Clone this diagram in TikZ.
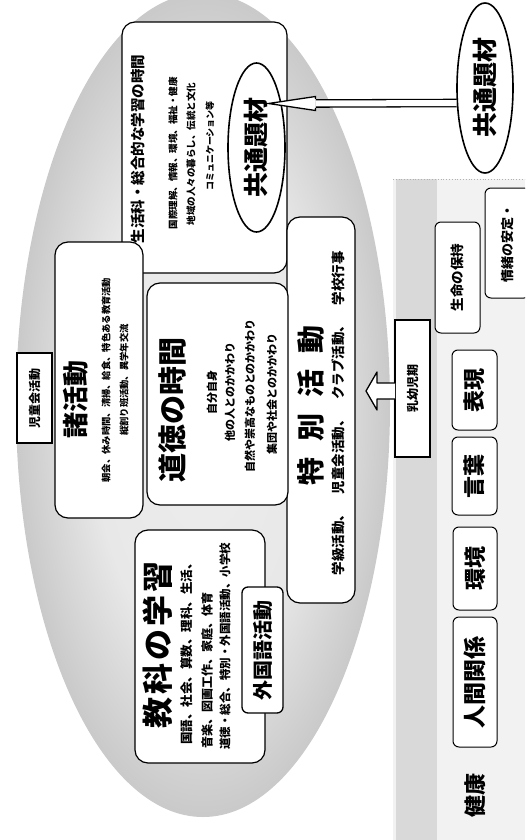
\documentclass[tikz,border=0pt]{standalone}
\usepackage{fontspec}
\newfontfamily\jp{Noto Sans CJK JP}
\usetikzlibrary{calc,shapes.geometric}
\pgfdeclareradialshading{ovalsh}{\pgfpoint{0bp}{0bp}}{color(0bp)=(gray!14); color(15bp)=(gray!18); color(25bp)=(gray!42); color(50bp)=(gray!42)}
\begin{document}
\begin{tikzpicture}[x=1pt,y=-1pt,
  bigbox/.style={draw, line width=1.2pt, rounded corners=13pt, fill=white, inner sep=0pt},
  ttl/.style={rotate=90, inner sep=0pt, font=\jp\bfseries\fontsize{#1}{#1}\selectfont},
  sub/.style={rotate=90, inner sep=0pt, font=\jp\bfseries\fontsize{#1}{#1}\selectfont},
  tagbox/.style={draw, line width=1.8pt, rotate=90, fill=white, inner sep=0pt, font=\jp\bfseries\fontsize{12}{12}\selectfont},
  areabox/.style={draw, line width=1pt, rounded corners=6pt, rotate=90, fill=white, inner sep=0pt, font=\jp\bfseries\fontsize{#1}{#1}\selectfont},
  ovalnode/.style={draw, ellipse, line width=1.6pt, rotate=90, fill=white, inner sep=0pt, font=\jp\bfseries\fontsize{25}{25}\selectfont}]
\useasboundingbox (0,0) rectangle (525,840);
\clip (0,0) rectangle (525,840);
\fill[white] (0,0) rectangle (525,840);
% big oval
\shade[shading=ovalsh] (203,405) ellipse [x radius=187pt, y radius=412pt];
% right band
\fill[gray!10] (393,179) rectangle (525,840);
\fill[gray!30] (396,179) rectangle (437,840);
\draw[gray!60, dotted, line width=0.8pt] (393,179) -- (525,179);
% big boxes
\node[bigbox, minimum width=165pt, minimum height=251pt] (sogo) at (204.5,147.5) {};
\node[bigbox, minimum width=88pt, minimum height=276pt] (shokatsu) at (99,380) {};
\node[bigbox, minimum width=68pt, minimum height=386pt] (tokkatsu) at (321,410) {};
\node[bigbox, minimum width=141pt, minimum height=222pt] (dotoku) at (217.5,394) {};
\node[bigbox, minimum width=130pt, minimum height=233pt] (kyoka) at (200,646.5) {};
% sogo texts
\node[ttl=14.5] (sogoT) at (138,149) {生活科・総合的な学習の時間};
\node[sub=9.5] (sogo1) at (173,153) {国際理解、情報、環境、福祉・健康};
\node[sub=9.5] (sogo2) at (191,154) {地域の人々の暮らし、伝統と文化};
\node[sub=9] (sogo3) at (210,146) {コミュニケーション等};
\node[ovalnode, minimum width=169pt, minimum height=57pt] (ci) at (256.5,147.5) {共通題材};
% shokatsu texts
\node[ttl=26] (shoT) at (76,399) {諸活動};
\node[sub=9.3] (sho1) at (106,380) {朝会、休み時間、清掃、給食、特色ある教育活動};
\node[sub=9.3] (sho2) at (124,380) {縦割り班活動、異学年交流};
\node[tagbox, minimum width=90pt, minimum height=35pt] (jidokai) at (34.5,398) {児童会活動};
% dotoku texts
\node[ttl=29] (dotT) at (172,410) {道徳の時間};
\node[sub=11] (dot1) at (212,392) {自分自身};
\node[sub=11] (dot2) at (230,392) {他の人とのかかわり};
\node[sub=11] (dot3) at (250,396) {自然や崇高なものとのかかわり};
\node[sub=11] (dot4) at (272,394) {集団や社会とのかかわり};
% tokkatsu texts
\node[ttl=28] (tokT) at (311,405) {特\hspace{16pt}別\hspace{16pt}活\hspace{16pt}動};
\node[sub=13.5] (tok1) at (338,413) {学級活動、　児童会活動、　クラブ活動、　学校行事};
% kyoka texts
\node[ttl=31] (kyoT) at (158,645) {教\hspace{3pt}科\hspace{3pt}の\hspace{3pt}学\hspace{3pt}習};
\node[sub=12.5] (kyo1) at (187,651) {国語、社会、算数、理科、生活、};
\node[sub=12] (kyo2) at (207,670) {音楽、図画工作、家庭、体育};
\node[sub=11.5] (kyo3) at (225,646) {道徳・総合、特別・外国語活動、小学校};
\node[areabox=20, line width=1.3pt, minimum width=126pt, minimum height=41pt] (gaikoku) at (262.5,650) {外国語活動};
% outer common theme
\node[ovalnode, minimum width=170pt, minimum height=56pt] (co) at (485,88) {共通題材};
% arrow
\coordinate (tip) at ($(ci.center)+(12,-44)$);
\coordinate (hb) at ($(tip)+(47,0)$);
\coordinate (aend) at ($(co.center)+(-27.6,15)$);
\draw[line width=1.3pt, double=white, double distance=6pt, shorten >=0.8pt] (hb) -- (aend);
\fill[white] (tip) -- ($(hb)+(0,-7)$) -- ($(hb)+(0,7)$) -- cycle;
\draw[line width=1.3pt, line join=miter] ($(hb)+(0,-4.5)$) -- ($(hb)+(0,-7)$) -- (tip) -- ($(hb)+(0,7)$) -- ($(hb)+(0,4.5)$);
% infancy
\node[tagbox, minimum width=137pt, minimum height=35pt] (nyu) at (412.5,388.5) {乳幼児期};
\filldraw[fill=white, line width=1.3pt, line join=round] ($(nyu.center)+(-17.5,-5.5)$) -- ($(nyu.center)+(-35.5,-5.5)$) -- ($(nyu.center)+(-35.5,-16.5)$) -- ($(nyu.center)+(-46.5,2.5)$) -- ($(nyu.center)+(-35.5,21.5)$) -- ($(nyu.center)+(-35.5,10.5)$) -- ($(nyu.center)+(-17.5,10.5)$);
\node[areabox=13.5, minimum width=111pt, minimum height=45pt] (seimei) at (457.5,277.5) {生命の保持};
\node[areabox=13, minimum width=110pt, minimum height=45pt] (jocho) at (507.5,243) {情緒の安定・};
\node[areabox=22, minimum width=80pt, minimum height=45pt] (hyogen) at (474.5,390) {表現};
\node[areabox=22, minimum width=78pt, minimum height=45pt] (kotoba) at (474.5,476) {言葉};
\node[areabox=22, minimum width=83pt, minimum height=44pt] (kankyo) at (475,568.5) {環境};
\node[areabox=23, minimum width=130pt, minimum height=44pt] (ningen) at (475,682) {人間関係};
\node[ttl=22] (kenko) at (475,795) {健康};
\end{tikzpicture}
\end{document}
